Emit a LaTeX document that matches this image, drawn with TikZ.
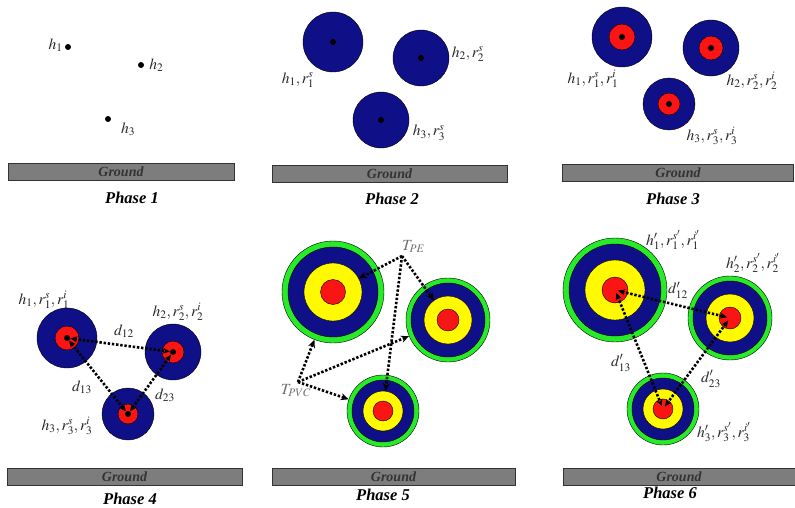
\documentclass[tikz,border=0pt]{standalone}
\usepackage{mathptmx}
\usepackage{fontspec}
\setmainfont{Liberation Serif}
\usepackage{tikz}
\usetikzlibrary{arrows.meta, positioning}
\definecolor{ringblue}{RGB}{15,15,135}
\definecolor{ringred}{RGB}{250,20,20}
\definecolor{ringyellow}{RGB}{255,250,0}
\definecolor{ringgreen}{RGB}{40,235,40}
\definecolor{groundgray}{RGB}{125,125,125}
\definecolor{tgray}{RGB}{110,110,110}

\begin{document}
\begin{tikzpicture}[
    x=1pt, y=-1pt,
    hdot/.style={circle, fill=black, inner sep=0pt, minimum size=6pt},
    ring/.style={circle, draw=black, thin, fill=#1, inner sep=0pt},
    lbl/.style={font=\fontsize{15.5}{17}\selectfont, text=black!85, inner sep=1pt},
    ground/.style={rectangle, draw=black!80, fill=groundgray, inner sep=0pt,
                   minimum height=17pt, text=black!80,
                   font=\fontsize{14}{16}\selectfont\bfseries\itshape},
    phase/.style={font=\fontsize{16.5}{18}\selectfont\bfseries\itshape},
    dist/.style={{Stealth[length=7pt,width=6pt]}-{Stealth[length=7pt,width=6pt]},
                 line width=2.6pt, dash pattern=on 2.4pt off 1.8pt},
    tarrow/.style={-{Stealth[length=8pt,width=7pt]}, line width=2.6pt,
                   dash pattern=on 2.4pt off 1.8pt}
]
\useasboundingbox (0,0) rectangle (795,508);

% Phase 1
\node[hdot] (p1a) at (68,47) {};
\node[hdot] (p1b) at (141,65) {};
\node[hdot] (p1c) at (108,119) {};
\node[lbl, left=1pt of p1a, yshift=2pt] (p1la) {$h_1$};
\node[lbl, right=4pt of p1b] (p1lb) {$h_2$};
\node[lbl] (p1lc) at (128,129) {$h_3$};
\node[ground, minimum width=226pt] (g1) at (121,171.5) {Ground};
\node[phase] (ph1) at (132,198) {Phase 1};

% Phase 2
\node[ring=ringblue, minimum size=60pt] (p2a) at (333,42) {};
\node[ring=ringblue, minimum size=56pt] (p2b) at (421,58) {};
\node[ring=ringblue, minimum size=56pt] (p2c) at (381,120) {};
\node[hdot] (p2a-d) at (p2a) {};
\node[hdot] (p2b-d) at (p2b) {};
\node[hdot] (p2c-d) at (p2c) {};
\node[lbl] (p2la) at (298,80) {$h_1,r_1^s$};
\node[lbl] (p2lb) at (468,54) {$h_2,r_2^s$};
\node[lbl] (p2lc) at (429,133) {$h_3,r_3^s$};
\node[ground, minimum width=235pt] (g2) at (389.5,173.5) {Ground};
\node[phase] (ph2) at (392,199) {Phase 2};

% Phase 3
\node[ring=ringblue, minimum size=60pt] (p3a) at (622,37) {};
\node[ring=ringblue, minimum size=56pt] (p3b) at (711,48) {};
\node[ring=ringblue, minimum size=52pt] (p3c) at (669,104) {};
\node[ring=ringred, minimum size=26pt] (p3a-r) at (p3a) {};
\node[ring=ringred, minimum size=24pt] (p3b-r) at (p3b) {};
\node[ring=ringred, minimum size=22pt] (p3c-r) at (p3c) {};
\node[hdot] (p3a-d) at (p3a) {};
\node[hdot] (p3b-d) at (p3b) {};
\node[hdot] (p3c-d) at (p3c) {};
\node[lbl] (p3la) at (593,79) {$h_1,r_1^s,r_1^i$};
\node[lbl] (p3lb) at (752,81) {$h_2,r_2^s,r_2^i$};
\node[lbl] (p3lc) at (712,136) {$h_3,r_3^s,r_3^i$};
\node[ground, minimum width=231pt] (g3) at (678,173) {Ground};
\node[phase] (ph3) at (673,199) {Phase 3};

% Phase 4
\node[ring=ringblue, minimum size=60pt] (p4a) at (67,338) {};
\node[ring=ringblue, minimum size=56pt] (p4b) at (173,352) {};
\node[ring=ringblue, minimum size=52pt] (p4c) at (128,414) {};
\node[ring=ringred, minimum size=24pt] (p4a-r) at (p4a) {};
\node[ring=ringred, minimum size=22pt] (p4b-r) at (p4b) {};
\node[ring=ringred, minimum size=20pt] (p4c-r) at (p4c) {};
\node[hdot] (p4a-d) at (p4a) {};
\node[hdot] (p4b-d) at (p4b) {};
\node[hdot] (p4c-d) at (p4c) {};
\draw[dist] (p4a-d) -- (p4b-d);
\draw[dist] (p4a-d) -- (p4c-d);
\draw[dist] (p4b-d) -- (p4c-d);
\node[lbl] (p4la) at (44,300) {$h_1,r_1^s,r_1^i$};
\node[lbl] (p4lb) at (178,312) {$h_2,r_2^s,r_2^i$};
\node[lbl] (p4lc) at (67,426) {$h_3,r_3^s,r_3^i$};
\node[lbl] (d12) at (124,331) {$d_{12}$};
\node[lbl] (d13) at (82,387) {$d_{13}$};
\node[lbl] (d23) at (165,395) {$d_{23}$};
\node[ground, minimum width=235pt] (g4) at (124.5,476.5) {Ground};
\node[phase] (ph4) at (130,499) {Phase 4};

% Phase 5
\node[ring=ringgreen, minimum size=102pt] (p5a) at (333,292) {};
\node[ring=ringblue, minimum size=90pt] (p5a-b) at (p5a) {};
\node[ring=ringyellow, minimum size=58pt] (p5a-y) at (p5a) {};
\node[ring=ringred, minimum size=25pt] (p5a-r) at (p5a) {};
\node[ring=ringgreen, minimum size=84pt] (p5b) at (448,320) {};
\node[ring=ringblue, minimum size=74pt] (p5b-b) at (p5b) {};
\node[ring=ringyellow, minimum size=48pt] (p5b-y) at (p5b) {};
\node[ring=ringred, minimum size=22pt] (p5b-r) at (p5b) {};
\node[ring=ringgreen, minimum size=72pt] (p5c) at (383,411) {};
\node[ring=ringblue, minimum size=62pt] (p5c-b) at (p5c) {};
\node[ring=ringyellow, minimum size=40pt] (p5c-y) at (p5c) {};
\node[ring=ringred, minimum size=20pt] (p5c-r) at (p5c) {};
\coordinate (tpe) at (402,256);
\coordinate (tpvc) at (298,382);
\node[lbl, text=tgray, anchor=south west] (tpe-l) at (401,254) {$T_{PE}$};
\node[lbl, text=tgray, anchor=north] (tpvc-l) at (296,383) {$T_{PVC}$};
\draw[tarrow] (tpe) -- (p5a-y);
\draw[tarrow] (tpe) -- (p5b-y);
\draw[tarrow] (tpe) -- (p5c-y);
\draw[tarrow] (tpvc) -- (p5a);
\draw[tarrow] (tpvc) -- (p5b);
\draw[tarrow] (tpvc) -- (p5c);
\node[ground, minimum width=243pt] (g5) at (393.5,477) {Ground};
\node[phase] (ph5) at (383,495) {Phase 5};

% Phase 6
\node[ring=ringgreen, minimum size=104pt] (p6a) at (615,290) {};
\node[ring=ringblue, minimum size=92pt] (p6a-b) at (p6a) {};
\node[ring=ringyellow, minimum size=60pt] (p6a-y) at (p6a) {};
\node[ring=ringred, minimum size=26pt] (p6a-r) at (p6a) {};
\node[ring=ringgreen, minimum size=84pt] (p6b) at (730,318) {};
\node[ring=ringblue, minimum size=74pt] (p6b-b) at (p6b) {};
\node[ring=ringyellow, minimum size=48pt] (p6b-y) at (p6b) {};
\node[ring=ringred, minimum size=22pt] (p6b-r) at (p6b) {};
\node[ring=ringgreen, minimum size=72pt] (p6c) at (663,409) {};
\node[ring=ringblue, minimum size=62pt] (p6c-b) at (p6c) {};
\node[ring=ringyellow, minimum size=40pt] (p6c-y) at (p6c) {};
\node[ring=ringred, minimum size=20pt] (p6c-r) at (p6c) {};
\draw[dist, shorten <=3pt, shorten >=3pt] (p6a-r.center) -- (p6b-r.center);
\draw[dist, shorten <=3pt, shorten >=3pt] (p6a-r.center) -- (p6c-r.center);
\draw[dist, shorten <=3pt, shorten >=3pt] (p6b-r.center) -- (p6c-r.center);
\node[lbl] (p6la) at (673,240) {$h_1^{\prime},r_1^{s'},r_1^{i'}$};
\node[lbl] (p6lb) at (753,263) {$h_2^{\prime},r_2^{s'},r_2^{i'}$};
\node[lbl] (p6lc) at (724,432) {$h_3^{\prime},r_3^{s'},r_3^{i'}$};
\node[lbl] (d12p) at (678,290) {$d_{12}^{\prime}$};
\node[lbl] (d13p) at (621,363) {$d_{13}^{\prime}$};
\node[lbl] (d23p) at (711,379) {$d_{23}^{\prime}$};
\node[ground, minimum width=232pt] (g6) at (679,476.5) {Ground};
\node[phase] (ph6) at (670,493) {Phase 6};
\end{tikzpicture}
\end{document}
